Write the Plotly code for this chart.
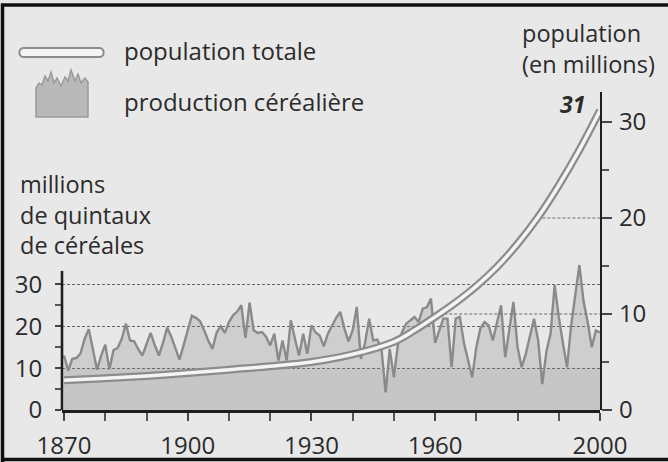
import numpy as np
import plotly.graph_objects as go

# ---------------- data ----------------
years = list(range(1870, 2001))
cereal = [
    13.0, 9.4, 12.2, 12.4, 13.5, 17.0, 19.3, 14.0, 9.6, 13.0,      # 1870-1879
    15.6, 9.7, 14.3, 14.8, 17.0, 20.6, 16.6, 16.4, 14.5, 13.0,      # 1880-1889
    15.5, 18.4, 15.5, 13.0, 16.0, 19.7, 17.5, 14.5, 12.0, 15.5,     # 1890-1899
    19.0, 22.5, 22.0, 21.2, 19.0, 16.5, 14.6, 18.5, 20.0, 18.4,     # 1900-1909
    21.0, 22.6, 23.5, 25.0, 17.2, 25.6, 19.0, 18.4, 18.6, 17.5,     # 1910-1919
    15.4, 18.2, 11.8, 16.6, 11.8, 21.4, 17.0, 13.0, 18.2, 13.4,     # 1920-1929
    20.2, 18.5, 17.8, 15.2, 18.2, 20.0, 22.0, 23.4, 19.5, 16.4,     # 1930-1939
    19.0, 24.6, 12.2, 16.0, 21.8, 16.6, 16.8, 14.4, 4.2, 14.6,      # 1940-1949
    7.8, 15.8, 18.6, 20.6, 21.5, 22.2, 21.0, 24.2, 24.5, 26.6,      # 1950-1959
    16.0, 19.0, 21.8, 21.8, 10.2, 21.8, 22.2, 16.0, 12.0, 7.8,      # 1960-1969
    15.0, 19.5, 21.0, 20.2, 16.6, 21.0, 25.0, 12.6, 19.0, 25.8,     # 1970-1979
    15.0, 10.2, 13.4, 18.0, 21.8, 16.6, 6.2, 14.0, 18.2, 29.8,      # 1980-1989
    22.2, 16.0, 10.2, 20.2, 27.0, 34.6, 26.0, 21.0, 15.0, 19.0,     # 1990-1999
    18.5,                                                           # 2000
]
pop_years = [1870, 1880, 1890, 1900, 1910, 1920, 1930, 1940, 1950, 1955,
             1960, 1965, 1970, 1975, 1980, 1985, 1990, 1995, 2000]
population = [3.1, 3.3, 3.55, 3.85, 4.2, 4.55, 5.0, 5.8, 7.1, 8.3,
              9.7, 11.2, 12.9, 14.9, 17.3, 20.1, 23.4, 27.1, 31.2]

x_tickvals = [1870, 1900, 1930, 1960, 2000]
x_minor = list(range(1870, 2001, 10))
left_ticks = [0, 10, 20, 30]
right_ticks = [0, 10, 20, 30]
right_grid = [10, 20]

# ---------------- geometry helpers (pixel -> paper) ----------------
W, H = 668, 462
L, R, T, B = 62, 600, 92, 410


def px(xp):
    return (xp - L) / (R - L)


def py(yp):
    return (B - yp) / (B - T)


def pt(xp, yp):
    return f"{px(xp):.5f},{py(yp):.5f}"


TXT = "#2b2b2b"
FONT = "Open Sans"

fig = go.Figure()

cer = np.array(cereal)
fig.add_trace(go.Scatter(
    x=years, y=cer, yaxis="y", mode="lines",
    line=dict(color="#8a8a8a", width=2.4),
    fill="tozeroy", fillcolor="rgba(130,130,130,0.26)",
    hoverinfo="skip", showlegend=False))
fig.add_trace(go.Scatter(
    x=years, y=np.minimum(cer, 10), yaxis="y", mode="lines",
    line=dict(width=0), fill="tozeroy", fillcolor="rgba(110,110,110,0.08)",
    hoverinfo="skip", showlegend=False))

fig.add_trace(go.Scatter(
    x=pop_years, y=population, yaxis="y2", mode="lines",
    line=dict(color="#8c8c8c", width=8, shape="spline"),
    hoverinfo="skip", showlegend=False))
fig.add_trace(go.Scatter(
    x=pop_years, y=population, yaxis="y2", mode="lines",
    line=dict(color="#f4f4f4", width=3.5, shape="spline"),
    hoverinfo="skip", showlegend=False))

shapes = []
# right-axis dashed guides from the curve to the axis
for v in right_grid:
    xs = float(np.interp(v, population, pop_years))
    shapes.append(dict(type="line", xref="x", yref="y2", x0=xs, x1=2000,
                       y0=v, y1=v, line=dict(color="#6a6a6a", width=1, dash="3px,2px"),
                       layer="below"))
# left axis line (only up to ~33)
shapes.append(dict(type="line", xref="paper", yref="y", x0=0, x1=0, y0=0, y1=33.2,
                   line=dict(color="#1e1e1e", width=2.6)))
# frame
shapes.append(dict(type="path", xref="paper", yref="paper",
                   path=f"M{pt(2.5, 680)} L{pt(2.5, 5)} L{pt(700, 5)} M{pt(2.5, 459.5)} L{pt(700, 459.5)}",
                   line=dict(color="#111111", width=3.5)))
# legend icon : population (capsule)
cap = (f"M{pt(23.5, 48)} L{pt(99.5, 48)} C{pt(105, 48)} {pt(105, 57)} {pt(99.5, 57)} "
       f"L{pt(23.5, 57)} C{pt(18, 57)} {pt(18, 48)} {pt(23.5, 48)} Z")
shapes.append(dict(type="path", xref="paper", yref="paper", path=cap,
                   fillcolor="#f4f4f4", line=dict(color="#8c8c8c", width=2)))
# legend icon : cereal (jagged area)
jag = [(36, 88), (39, 83), (42, 85), (45, 76), (48, 81), (51, 72), (54, 83), (57, 78),
       (61, 86), (65, 77), (68, 81), (71, 70), (75, 81), (78, 74), (81, 83), (85, 78), (88, 82)]
p = "M" + pt(36, 117) + " " + " ".join("L" + pt(a, b) for a, b in jag) + " L" + pt(88, 117) + " Z"
shapes.append(dict(type="path", xref="paper", yref="paper", path=p,
                   fillcolor="#b9b9b9", line=dict(color="#9a9a9a", width=1.5)))

annotations = []


def ann(text, xp, yp, size=24, xanchor="left", align="left", **kw):
    annotations.append(dict(text=text, xref="paper", yref="paper", x=px(xp), y=py(yp),
                            xanchor=xanchor, yanchor="middle", align=align, showarrow=False,
                            font=dict(family=FONT, size=size, color=TXT, **kw)))


ann("population totale", 122, 50)
ann("production céréalière", 122, 101)
ann("millions<br>de quintaux<br>de céréales", 18, 214, size=23.5)
ann("population<br>(en millions)", 520, 49, size=23.5)
ann("31", 572, 104, size=23, xanchor="center", align="center", weight="bold", style="italic")

axis_font = dict(family=FONT, size=24, color=TXT)

fig.update_layout(
    width=W, height=H,
    margin=dict(l=L, r=W - R, t=T, b=H - B, pad=0),
    paper_bgcolor="#e8e8e8", plot_bgcolor="rgba(0,0,0,0)",
    showlegend=False,
    xaxis=dict(range=[1869.5, 2000], domain=[0, 1], anchor="y", automargin=False,
               showline=True, linecolor="#1e1e1e", linewidth=3,
               showgrid=False, zeroline=False,
               ticks="outside", ticklen=8, tickwidth=2, tickcolor="#444",
               tickvals=x_tickvals, ticktext=[str(v) for v in x_tickvals],
               minor=dict(tickvals=x_minor, ticks="outside", ticklen=8, tickwidth=2, tickcolor="#555"),
               tickfont=axis_font, ticklabelstandoff=4),
    yaxis=dict(range=[0, 190.8 / 4.19], domain=[0, 0.6], anchor="x", side="left", automargin=False,
               showline=False, zeroline=False,
               showgrid=True, gridcolor="#666666", gridwidth=1, griddash="3px,2px",
               ticks="outside", ticklen=6, tickwidth=2, tickcolor="#444",
               tickvals=left_ticks, ticktext=[str(v) for v in left_ticks],
               minor=dict(tickvals=[5, 15, 25], ticks="outside", ticklen=6, tickwidth=2,
                          tickcolor="#555", showgrid=False),
               tickfont=axis_font, ticklabelstandoff=8),
    yaxis2=dict(range=[0, 318 / 9.6], domain=[0, 1], anchor="x", side="right", automargin=False,
                showline=True, linecolor="#1e1e1e", linewidth=2.2, zeroline=False,
                showgrid=False,
                ticks="outside", ticklen=10, tickwidth=2, tickcolor="#444",
                tickvals=right_ticks, ticktext=[str(v) for v in right_ticks],
                minor=dict(tickvals=[5, 15, 25], ticks="outside", ticklen=7, tickwidth=2,
                           tickcolor="#555", showgrid=False),
                tickfont=axis_font, ticklabelstandoff=2),
    shapes=shapes,
    annotations=annotations,
)

fig.write_html("out.html", config={"displayModeBar": False},
               post_script="document.body.style.margin='0px';")
